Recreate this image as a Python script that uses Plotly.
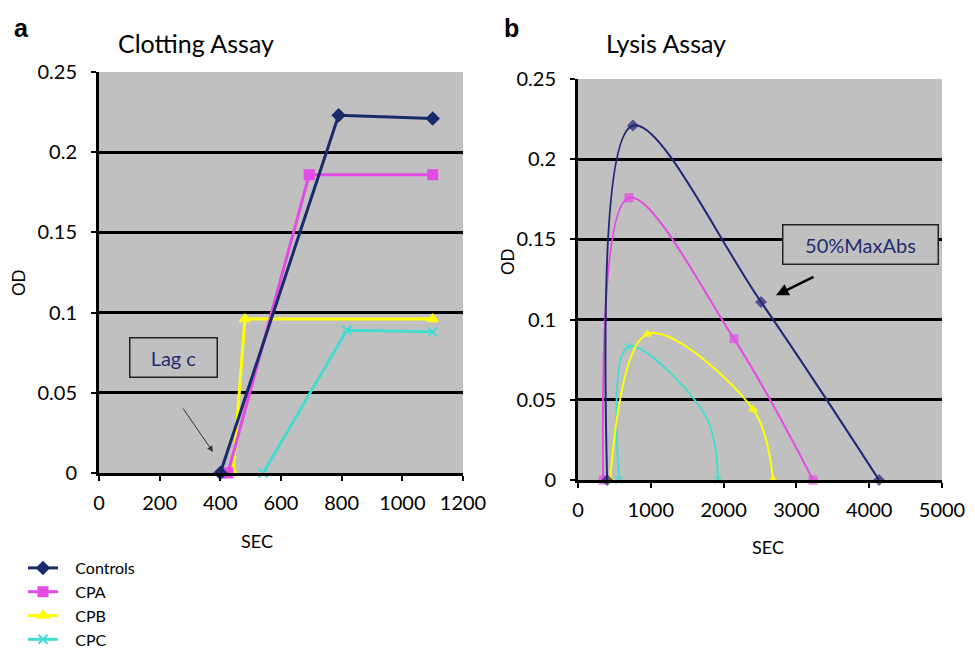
import plotly.graph_objects as go

# ---------------- data ----------------
series_names = ["Controls", "CPA", "CPB", "CPC"]

# Panel a: Clotting assay (SEC, OD)
clot_controls_x = [400, 790, 1100]
clot_controls_y = [0.0, 0.223, 0.221]
clot_cpa_x = [425, 693, 1100]
clot_cpa_y = [0.0, 0.186, 0.186]
clot_cpb_x = [442, 481, 1100]
clot_cpb_y = [0.0, 0.096, 0.096]
clot_cpc_x = [541, 817, 1100]
clot_cpc_y = [0.0, 0.089, 0.088]

# Panel b: Lysis assay (SEC, OD)
lysis_controls_x = [400, 755, 2514, 4135]
lysis_controls_y = [0.0, 0.221, 0.111, 0.0]
lysis_cpa_x = [345, 700, 2143, 3228]
lysis_cpa_y = [0.0, 0.176, 0.088, 0.0]
lysis_cpb_x = [440, 955, 2404, 2679]
lysis_cpb_y = [0.0, 0.091, 0.044, 0.0]
lysis_cpc_x = [563, 687, 1750, 1923]
lysis_cpc_y = [0.0, 0.083, 0.040, 0.0]

clot_xticks = [0, 200, 400, 600, 800, 1000, 1200]
lysis_xticks = [0, 1000, 2000, 3000, 4000, 5000]
y_ticks = [0, 0.05, 0.1, 0.15, 0.2, 0.25]
y_ticklabels = ["0", "0.05", "0.1", "0.15", "0.2", "0.25"]

# ---------------- style ----------------
colors_a = ["#1b2a6b", "#e44be4", "#ffff00", "#45dccf"]
colors_b = ["#232776", "#e44be4", "#ffff00", "#45dccf"]
symbols = ["diamond", "square", "triangle-up", "x-thin-open"]
FONT = "Lato"
NB = "\u00a0" * 3  # small gap between legend symbol and text

fig = go.Figure()

clot = [(clot_controls_x, clot_controls_y), (clot_cpa_x, clot_cpa_y),
        (clot_cpb_x, clot_cpb_y), (clot_cpc_x, clot_cpc_y)]
lysis = [(lysis_controls_x, lysis_controls_y), (lysis_cpa_x, lysis_cpa_y),
         (lysis_cpb_x, lysis_cpb_y), (lysis_cpc_x, lysis_cpc_y)]
# marker sizes for panel b (the cyan bend point has no visible marker)
lysis_marker_sizes = [[7, 7, 7, 7], [7, 7, 7, 7], [7, 7, 7, 7], [7, 7, 0, 7]]

# draw in reverse order so Controls sits on top
for i in [3, 2, 1, 0]:
    xs, ys = clot[i]
    fig.add_trace(go.Scatter(
        x=xs, y=ys, mode="lines+markers", name=NB + series_names[i],
        line=dict(color=colors_a[i], width=3),
        marker=dict(symbol=symbols[i], size=9, color=colors_a[i],
                    line=dict(color=colors_a[i], width=2)),
        xaxis="x", yaxis="y", showlegend=True, legendrank=i + 1, cliponaxis=False))

for i in [3, 2, 1, 0]:
    xs, ys = lysis[i]
    fig.add_trace(go.Scatter(
        x=xs, y=ys, mode="lines+markers", name=series_names[i],
        line=dict(color=colors_b[i], width=2, shape="spline", smoothing=1.0),
        marker=dict(symbol=symbols[i], size=lysis_marker_sizes[i], color=colors_b[i],
                    line=dict(color=colors_b[i], width=2)),
        xaxis="x2", yaxis="y2", showlegend=False, cliponaxis=False))

# the page body has an 8px margin, so the figure is drawn 8px in from the top-left
OFF = 8
W, H = 975 - OFF, 653 - OFF
def px_x(p):
    return (p - OFF) / W
def px_y(p):
    return 1 - (p - OFF) / H

axis_common = dict(
    showline=True, linecolor="black", linewidth=3,
    ticks="outside", ticklen=5, tickwidth=2, tickcolor="black",
    tickfont=dict(family=FONT, size=20, color="black"),
    zeroline=False, automargin=False,
)

fig.update_layout(
    width=W, height=H,
    margin=dict(l=0, r=0, t=0, b=0, autoexpand=False),
    paper_bgcolor="white",
    plot_bgcolor="#c0c0c0",
    font=dict(family=FONT, color="black"),
    xaxis=dict(domain=[px_x(99), px_x(463)], range=[0, 1200], tickvals=clot_xticks,
               showgrid=False, anchor="y", ticklabelstandoff=5, **axis_common),
    yaxis=dict(domain=[px_y(473), px_y(72)], range=[0, 0.25], tickvals=y_ticks,
               ticktext=y_ticklabels, showgrid=True, gridcolor="black", gridwidth=2.5,
               anchor="x", ticklabelstandoff=10, **axis_common),
    xaxis2=dict(domain=[px_x(578), px_x(942)], range=[0, 5000], tickvals=lysis_xticks,
                showgrid=False, anchor="y2", ticklabelstandoff=5, **axis_common),
    yaxis2=dict(domain=[px_y(480), px_y(79)], range=[0, 0.25], tickvals=y_ticks,
                ticktext=y_ticklabels, showgrid=True, gridcolor="black", gridwidth=2.5,
                anchor="x2", ticklabelstandoff=10, **axis_common),
    legend=dict(x=px_x(23), y=px_y(551), xanchor="left", yanchor="top",
                font=dict(family=FONT, size=16, color="black"),
                bgcolor="rgba(0,0,0,0)", tracegroupgap=0, itemwidth=30,
                traceorder="normal"),
    showlegend=True,
)

ann = []
def paper_text(text, x, y, size, bold=False, family=FONT, angle=0, color="black"):
    ann.append(dict(text=("<b>%s</b>" % text) if bold else text,
                    x=px_x(x), y=px_y(y), xref="paper", yref="paper",
                    showarrow=False, xanchor="center", yanchor="middle",
                    textangle=angle, font=dict(family=family, size=size, color=color)))

paper_text("a", 21, 28, 25, bold=True, family="Liberation Sans")
paper_text("b", 511, 28, 25, bold=True, family="Liberation Sans")
paper_text("Clotting Assay", 196, 43, 25)
paper_text("Lysis Assay", 666, 43, 25)
paper_text("OD", 18, 283, 17, angle=-90)
paper_text("OD", 507, 262, 17, angle=-90)
paper_text("SEC", 257, 541, 18)
paper_text("SEC", 768, 547, 18)

# boxed labels
ann.append(dict(text="Lag c", x=244, y=0.0719, xref="x", yref="y", showarrow=False,
                font=dict(family=FONT, size=20, color="#1f2d6e"),
                bordercolor="#222222", borderwidth=1.5, bgcolor="#c0c0c0",
                width=84, height=36))
ann.append(dict(text="", x=376, y=0.0131, xref="x", yref="y", showarrow=True,
                ax=-31, ay=-45, arrowhead=2, arrowsize=1.2, arrowwidth=1,
                arrowcolor="#333333"))
ann.append(dict(text="50%MaxAbs", x=3887, y=0.147, xref="x2", yref="y2", showarrow=False,
                font=dict(family=FONT, size=20, color="#1f2d6e"),
                bordercolor="#222222", borderwidth=1.5, bgcolor="#c0c0c0",
                width=152, height=36))
ann.append(dict(text="", x=2720, y=0.1152, xref="x2", yref="y2", showarrow=True,
                ax=39, ay=-19, arrowhead=2, arrowsize=1, arrowwidth=2.5,
                arrowcolor="black"))
fig.update_layout(annotations=ann)

fig.write_html("out.html")
